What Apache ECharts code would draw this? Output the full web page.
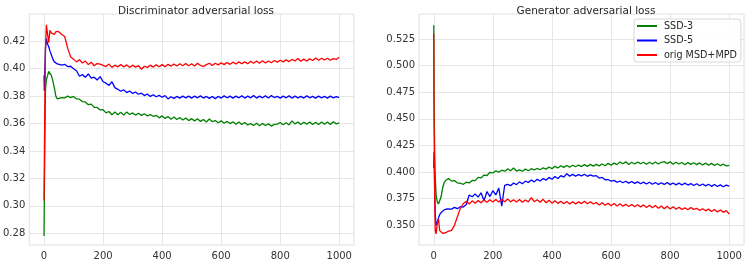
<!DOCTYPE html>
<html>
<head>
<meta charset="utf-8">
<script src="https://cdn.jsdelivr.net/npm/echarts@6/dist/echarts.min.js"></script>
<style>
html,body{margin:0;padding:0;background:#fff;}
#chart{width:748px;height:264px;}
</style>
</head>
<body>
<div id="chart"></div>
<script>
// ---- data ----
var steps = [0,1,3,5,8,12,16,20,25,30,35,40,45,
50,60,70,80,90,100,110,120,130,140,
150,160,170,180,190,200,210,220,230,240,
250,260,270,280,290,300,310,320,330,340,
350,360,370,380,390,400,410,420,430,440,
450,460,470,480,490,500,510,520,530,540,
550,560,570,580,590,600,610,620,630,640,
650,660,670,680,690,700,710,720,730,740,
750,760,770,780,790,800,810,820,830,840,
850,860,870,880,890,900,910,920,930,940,
950,960,970,980,990,1000];

var seriesNames = ['SSD-3','SSD-5','orig MSD+MPD'];
var panelTitles = ['Discriminator adversarial loss','Generator adversarial loss'];
var xTicks = [0,200,400,600,800,1000];
var yTicksD = [0.28,0.30,0.32,0.34,0.36,0.38,0.40,0.42];
var yTicksG = [0.350,0.375,0.400,0.425,0.450,0.475,0.500,0.525];

// Discriminator adversarial loss
var dSSD3 = [0.278,0.305,0.350,0.385,0.392,0.395,0.398,0.397,0.395,0.391,0.386,0.380,0.378,
0.3772,0.3790,0.3788,0.3800,0.3790,0.3798,0.3780,0.3778,0.3760,0.3758,
0.3738,0.3742,0.3718,0.3718,0.3700,0.3702,0.3678,0.3688,0.3665,0.3684,
0.3664,0.3682,0.3662,0.3684,0.3666,0.3678,0.3662,0.3676,0.3660,0.3672,
0.3656,0.3666,0.3652,0.3660,0.3642,0.3656,0.3638,0.3652,0.3632,0.3648,
0.3630,0.3644,0.3626,0.3640,0.3622,0.3636,0.3620,0.3636,0.3616,0.3630,
0.3612,0.3634,0.3614,0.3622,0.3606,0.3620,0.3602,0.3616,0.3600,0.3614,
0.3596,0.3612,0.3594,0.3608,0.3590,0.3600,0.3586,0.3602,0.3584,0.3600,
0.3586,0.3598,0.3582,0.3594,0.3596,0.3608,0.3592,0.3606,0.3590,0.3620,
0.3598,0.3612,0.3594,0.3610,0.3596,0.3612,0.3594,0.3610,0.3594,0.3612,
0.3596,0.3612,0.3594,0.3614,0.3598,0.3606];

var dSSD5 = [0.395,0.384,0.400,0.415,0.422,0.418,0.416,0.413,0.410,0.407,0.405,0.404,0.4035,
0.4040,0.4026,0.4032,0.4016,0.4018,0.4000,0.3985,0.3945,0.3958,0.3938,
0.3962,0.3932,0.3938,0.3918,0.3942,0.3905,0.3895,0.3878,0.3905,0.3862,
0.3850,0.3836,0.3846,0.3826,0.3838,0.3820,0.3830,0.3814,0.3822,0.3804,
0.3816,0.3798,0.3810,0.3796,0.3806,0.3792,0.3804,0.3780,0.3796,0.3784,
0.3798,0.3786,0.3800,0.3788,0.3800,0.3786,0.3800,0.3788,0.3802,0.3786,
0.3798,0.3784,0.3798,0.3782,0.3798,0.3786,0.3802,0.3788,0.3800,0.3786,
0.3800,0.3788,0.3802,0.3786,0.3800,0.3788,0.3804,0.3786,0.3800,0.3788,
0.3802,0.3786,0.3804,0.3790,0.3798,0.3786,0.3800,0.3788,0.3802,0.3786,
0.3800,0.3788,0.3798,0.3786,0.3802,0.3788,0.3798,0.3786,0.3800,0.3788,
0.3798,0.3786,0.3800,0.3788,0.3796,0.3790];

var dOrig = [0.304,0.330,0.380,0.415,0.432,0.425,0.419,0.428,0.426,0.427,0.425,0.427,0.426,
0.4270,0.4250,0.4235,0.4150,0.4088,0.4070,0.4050,0.4066,0.4042,0.4056,
0.4030,0.4048,0.4022,0.4038,0.4034,0.4024,0.4016,0.4034,0.4010,0.4026,
0.4014,0.4030,0.4012,0.4028,0.4010,0.4026,0.4012,0.4022,0.3996,0.4018,
0.4010,0.4026,0.4012,0.4028,0.4014,0.4030,0.4014,0.4032,0.4018,0.4034,
0.4020,0.4036,0.4022,0.4038,0.4022,0.4036,0.4020,0.4040,0.4024,0.4016,
0.4030,0.4040,0.4024,0.4040,0.4028,0.4044,0.4030,0.4046,0.4032,0.4048,
0.4034,0.4050,0.4036,0.4050,0.4036,0.4054,0.4040,0.4056,0.4040,0.4058,
0.4042,0.4056,0.4044,0.4060,0.4048,0.4062,0.4050,0.4066,0.4052,0.4068,
0.4056,0.4074,0.4054,0.4070,0.4056,0.4072,0.4060,0.4078,0.4062,0.4076,
0.4064,0.4076,0.4062,0.4074,0.4068,0.4084];

// Generator adversarial loss
var gSSD3 = [0.538,0.470,0.420,0.395,0.378,0.372,0.370,0.373,0.377,0.385,0.390,0.392,0.3925,
0.3940,0.3915,0.3920,0.3898,0.3895,0.3885,0.3905,0.3898,0.3922,0.3920,
0.3950,0.3945,0.3972,0.3968,0.3998,0.3992,0.4012,0.3998,0.4018,0.4008,
0.4030,0.4012,0.4038,0.4010,0.4020,0.4008,0.4028,0.4012,0.4032,0.4020,
0.4034,0.4022,0.4040,0.4028,0.4048,0.4032,0.4054,0.4038,0.4060,0.4044,
0.4062,0.4046,0.4064,0.4050,0.4066,0.4052,0.4070,0.4054,0.4072,0.4056,
0.4072,0.4058,0.4076,0.4060,0.4082,0.4064,0.4084,0.4070,0.4094,0.4078,
0.4096,0.4072,0.4092,0.4076,0.4094,0.4078,0.4092,0.4074,0.4092,0.4076,
0.4094,0.4076,0.4092,0.4098,0.4080,0.4096,0.4074,0.4092,0.4076,0.4090,
0.4068,0.4090,0.4072,0.4088,0.4070,0.4086,0.4066,0.4084,0.4064,0.4082,
0.4062,0.4078,0.4060,0.4074,0.4058,0.4064];

var gSSD5 = [0.404,0.419,0.385,0.360,0.350,0.353,0.357,0.360,0.362,0.3635,0.3645,0.3650,0.3655,
0.3665,0.3652,0.3668,0.3656,0.3675,0.3672,0.3695,0.3785,0.3768,0.3795,
0.3765,0.3805,0.3730,0.3818,0.3770,0.3825,0.3785,0.3850,0.3680,0.3875,
0.3885,0.3872,0.3898,0.3882,0.3908,0.3890,0.3915,0.3902,0.3925,0.3908,
0.3932,0.3916,0.3940,0.3924,0.3950,0.3932,0.3958,0.3940,0.3966,0.3952,
0.3984,0.3962,0.3978,0.3962,0.3976,0.3964,0.3980,0.3960,0.3974,0.3962,
0.3966,0.3944,0.3950,0.3928,0.3930,0.3914,0.3922,0.3904,0.3916,0.3900,
0.3914,0.3896,0.3912,0.3894,0.3908,0.3890,0.3906,0.3888,0.3904,0.3886,
0.3902,0.3884,0.3900,0.3884,0.3902,0.3882,0.3898,0.3880,0.3896,0.3878,
0.3896,0.3878,0.3892,0.3874,0.3890,0.3872,0.3888,0.3870,0.3886,0.3866,
0.3884,0.3864,0.3880,0.3862,0.3878,0.3868];

var gOrig = [0.530,0.450,0.380,0.345,0.342,0.352,0.356,0.345,0.3435,0.3425,0.3415,0.3430,0.3420,
0.3445,0.3452,0.3500,0.3580,0.3660,0.3705,0.3725,0.3700,0.3730,0.3708,
0.3732,0.3712,0.3738,0.3716,0.3740,0.3718,0.3742,0.3720,0.3744,0.3722,
0.3748,0.3720,0.3740,0.3718,0.3742,0.3716,0.3738,0.3720,0.3760,0.3722,
0.3740,0.3716,0.3744,0.3712,0.3736,0.3708,0.3730,0.3706,0.3726,0.3702,
0.3724,0.3700,0.3722,0.3700,0.3720,0.3704,0.3726,0.3702,0.3722,0.3700,
0.3714,0.3690,0.3712,0.3688,0.3708,0.3684,0.3704,0.3682,0.3702,0.3680,
0.3698,0.3676,0.3696,0.3674,0.3694,0.3672,0.3692,0.3668,0.3688,0.3664,
0.3686,0.3660,0.3682,0.3656,0.3678,0.3654,0.3674,0.3650,0.3670,0.3648,
0.3664,0.3646,0.3668,0.3650,0.3660,0.3640,0.3656,0.3636,0.3652,0.3630,
0.3648,0.3626,0.3644,0.3622,0.3638,0.3606];

var colors = ['#008000','#0000ff','#ff0000'];

// ---- chart ----
function pairs(vals){ return steps.map(function(x,i){ return [x, vals[i]]; }); }

var font = 'DejaVu Sans';
var gridColor = '#e6e6e6';
var labelColor = '#333';

function xAxisFor(gi){
  return {
    type:'value', gridIndex:gi, min:-50, max:1050,
    axisLine:{show:false}, axisTick:{show:false, customValues:xTicks},
    axisLabel:{customValues:xTicks, color:labelColor, fontFamily:font, fontSize:10, margin:6,
      formatter:function(v){ return String(Math.round(v)); }},
    splitLine:{show:true, lineStyle:{color:gridColor, width:1}}
  };
}
function yAxisFor(gi, mn, mx, ticks, dec){
  return {
    type:'value', gridIndex:gi, min:mn, max:mx,
    axisLine:{show:false}, axisTick:{show:false, customValues:ticks},
    axisLabel:{customValues:ticks, color:labelColor, fontFamily:font, fontSize:10, margin:4,
      formatter:function(v){ return v.toFixed(dec); }},
    splitLine:{show:true, lineStyle:{color:gridColor, width:1}}
  };
}

var panelData = [[dSSD3,dSSD5,dOrig],[gSSD3,gSSD5,gOrig]];
var series = [];
panelData.forEach(function(arr, gi){
  arr.forEach(function(vals, si){
    series.push({
      type:'line', name:seriesNames[si], xAxisIndex:gi, yAxisIndex:gi,
      data:pairs(vals), symbol:'none', showSymbol:false, animation:false,
      lineStyle:{color:colors[si], width:1.3}, itemStyle:{color:colors[si]}
    });
  });
});

var lineIcon = 'path://M0,0L20,0L20,2L0,2Z';

var chart = echarts.init(document.getElementById('chart'), null, {renderer:'canvas'});
chart.setOption({
  backgroundColor:'#fff',
  animation:false,
  title:[
    {text:panelTitles[0], left:191, top:1, textAlign:'center',
     textStyle:{fontFamily:font, fontSize:10.5, fontWeight:'normal', color:'#262626'}},
    {text:panelTitles[1], left:581, top:1, textAlign:'center',
     textStyle:{fontFamily:font, fontSize:10.5, fontWeight:'normal', color:'#262626'}}
  ],
  grid:[
    {left:29, top:14, width:325, height:231, show:true, borderColor:'#e0e0e0', borderWidth:1, backgroundColor:'#fff'},
    {left:419, top:14, width:325, height:231, show:true, borderColor:'#e0e0e0', borderWidth:1, backgroundColor:'#fff'}
  ],
  xAxis:[xAxisFor(0), xAxisFor(1)],
  yAxis:[yAxisFor(0, 0.2715, 0.4399, yTicksD, 2), yAxisFor(1, 0.3315, 0.5485, yTicksG, 3)],
  legend:{
    data:seriesNames.map(function(n){ return {name:n, icon:lineIcon}; }),
    orient:'vertical', left:634, top:19,
    padding:[2,4,2,3], itemWidth:20, itemHeight:10, itemGap:4.5,
    backgroundColor:'rgba(255,255,255,0.85)', borderColor:'#d8d8d8', borderWidth:1, borderRadius:3,
    textStyle:{fontFamily:font, fontSize:9.6, color:'#262626', padding:[0,0,0,2]}
  },
  series:series
});
</script>
</body>
</html>
